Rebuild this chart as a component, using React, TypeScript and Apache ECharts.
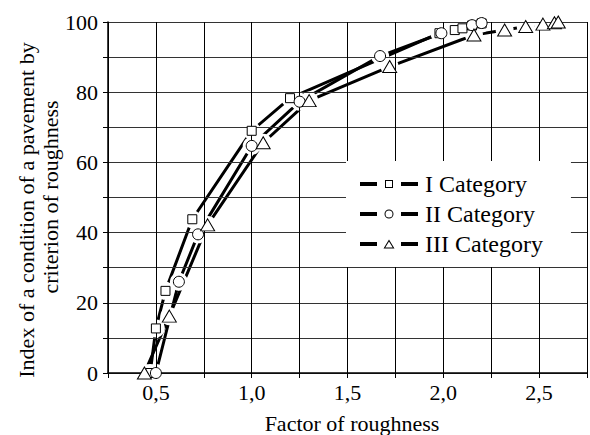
import React, { useEffect, useRef } from "react";
import * as echarts from "echarts";

const seriesNames = ["I Category", "II Category", "III Category"];
const seriesSymbols = ["rect", "circle", "triangle"];

const catI: number[][] = [
  [0.47, 0], [0.5, 12.7], [0.55, 23.4], [0.69, 43.8], [1.0, 69.0], [1.2, 78.3],
  [1.98, 96.8], [2.06, 97.7], [2.1, 98.2], [2.15, 99.0], [2.2, 99.6],
];
const catII: number[][] = [
  [0.5, 0], [0.62, 26.0], [0.72, 39.5], [1.0, 64.7], [1.25, 77.3], [1.67, 90.3],
  [1.99, 96.8], [2.15, 99.1], [2.2, 99.7],
];
const catIII: number[][] = [
  [0.44, 0], [0.57, 16.2], [0.77, 42.2], [1.06, 65.6], [1.3, 77.6], [1.72, 87.3],
  [2.16, 96.3], [2.32, 97.7], [2.43, 98.7], [2.52, 99.4], [2.58, 99.8], [2.6, 100],
];
const allData = [catI, catII, catIII];

const xMin = 0.25;
const xMax = 2.75;
const xStep = 0.25;
const yMin = 0;
const yMax = 100;
const yStep = 10;

const xTitle = "Factor of roughness";
const yTitle1 = "Index of a condition of a pavement by";
const yTitle2 = "criterion of roughness";

const FONT = "Liberation Serif";

// legend icons: dash, hollow marker, dash (holes via opposite winding)
const DASHES = "M0,3h17v4h-17Z M41,3h17v4h-17Z ";
const legendIcons = [
  "path://" + DASHES + "M25,1h8v8h-8Z M26,2v6h6v-6Z",
  "path://" + DASHES +
    "M24.5,5A4.5,4.5 0 1,1 33.5,5A4.5,4.5 0 1,1 24.5,5Z M25.5,5A3.5,3.5 0 1,0 32.5,5A3.5,3.5 0 1,0 25.5,5Z",
  "path://" + DASHES + "M29,0.5L34.5,9.5L23.5,9.5Z M29,2.5L25.3,8.6L32.7,8.6Z",
];

export default function App() {
  const ref = useRef<HTMLDivElement>(null);
  useEffect(() => {
    if (!ref.current) return;
    const chart = echarts.init(ref.current, null, { renderer: "svg" });
    const symbolSizes: any[] = [9, 11, [14, 12]];
    const series: any[] = [];
    allData.forEach((d, i) => {
      series.push({
        name: seriesNames[i],
        type: "line",
        data: d,
        z: 2,
        symbol: "none",
        lineStyle: { color: "#000", width: 3 },
        itemStyle: { color: "#000" },
        silent: true,
      });
    });
    allData.forEach((d, i) => {
      series.push({
        name: "halo" + i,
        type: "scatter",
        data: d,
        z: 3,
        symbol: "circle",
        symbolSize: 18,
        itemStyle: { color: "#ffffff", opacity: 1, borderWidth: 0 },
        silent: true,
      });
    });
    allData.forEach((d, i) => {
      series.push({
        name: "mark" + i,
        type: "scatter",
        data: d,
        z: 5,
        symbol: seriesSymbols[i],
        symbolSize: symbolSizes[i],
        itemStyle: { color: "#ffffff", opacity: 1, borderColor: "#000", borderWidth: 1 },
        silent: true,
      });
    });

    chart.setOption({
      animation: false,
      backgroundColor: "#fff",
      textStyle: { fontFamily: FONT, color: "#000" },
      grid: { left: 108, top: 22, bottom: 62, right: -7 },
      xAxis: {
        type: "value",
        z: 4,
        min: xMin,
        max: xMax,
        interval: xStep,
        axisLine: { lineStyle: { color: "#000", width: 1.5 } },
        axisTick: { show: true, length: 5, lineStyle: { color: "#000" } },
        axisLabel: {
          fontSize: 22,
          fontFamily: FONT,
          color: "#000",
          margin: 8,
          formatter: (v: number) =>
            Math.abs(v * 2 - Math.round(v * 2)) < 1e-6 ? v.toFixed(1).replace(".", ",") : "",
        },
        splitLine: { show: true, lineStyle: { color: "#000", width: 1 } },
      },
      yAxis: {
        type: "value",
        z: 4,
        min: yMin,
        max: yMax,
        interval: yStep,
        axisLine: { show: true, lineStyle: { color: "#000", width: 1.5 } },
        axisTick: { show: true, length: 5, lineStyle: { color: "#000" } },
        axisLabel: {
          fontSize: 22,
          fontFamily: FONT,
          color: "#000",
          margin: 10,
          formatter: (v: number) => (Math.round(v) % 20 === 0 ? String(Math.round(v)) : ""),
        },
        splitLine: { show: true, lineStyle: { color: "#333", width: 1 } },
      },
      legend: {
        data: seriesNames.map((n, i) => ({ name: n, icon: legendIcons[i] })),
        orient: "vertical",
        left: 346,
        top: 161,
        padding: [11, 28, 11, 14],
        itemGap: 6,
        itemWidth: 58,
        itemHeight: 10,
        itemStyle: { color: "#000", borderWidth: 0 },
        backgroundColor: "#fff",
        textStyle: { fontSize: 24, fontFamily: FONT, color: "#000", padding: [0, 0, 0, 2] },
        z: 10,
      },
      graphic: [
        {
          type: "text",
          x: 352,
          y: 423,
          style: {
            text: xTitle,
            fontSize: 22,
            fontFamily: FONT,
            fill: "#000",
            align: "center",
            verticalAlign: "middle",
          },
        },
        {
          type: "text",
          x: 26,
          y: 210,
          rotation: Math.PI / 2,
          style: {
            text: yTitle1,
            fontSize: 22,
            fontFamily: FONT,
            fill: "#000",
            align: "center",
            verticalAlign: "middle",
          },
        },
        {
          type: "text",
          x: 50,
          y: 197,
          rotation: Math.PI / 2,
          style: {
            text: yTitle2,
            fontSize: 22,
            fontFamily: FONT,
            fill: "#000",
            align: "center",
            verticalAlign: "middle",
          },
        },
      ],
      series,
    });
    return () => chart.dispose();
  }, []);
  return (
    <div
      ref={ref}
      style={{ position: "fixed", left: 0, top: 0, width: 590, height: 435 }}
    />
  );
}
